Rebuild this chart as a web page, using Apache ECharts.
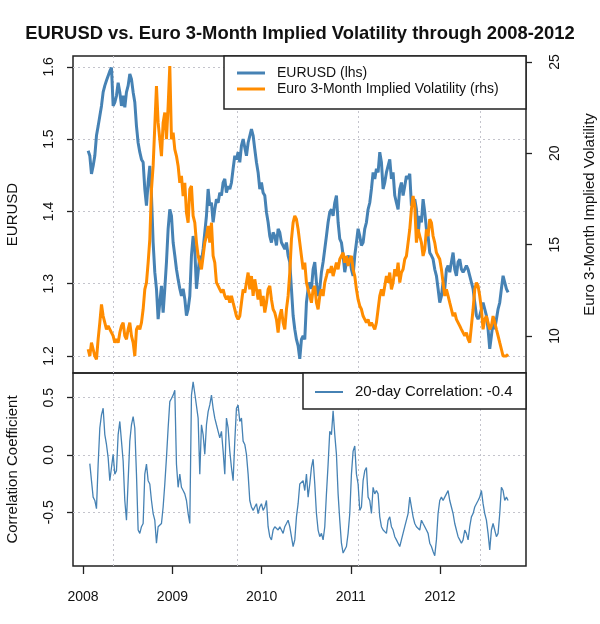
<!DOCTYPE html>
<html><head><meta charset="utf-8">
<script src="https://cdn.jsdelivr.net/npm/echarts@6/dist/echarts.min.js"></script>
<style>html,body{margin:0;padding:0;background:#fff}#c{width:600px;height:624px}</style>
</head><body><div id="c"></div>
<script>
// ---- data ----
const startDate = [2008, 1, 22];   // first observation
const stepDays = 6.82;             // spacing of the sampled observations
const eurusd = [
1.484,1.477,1.452,1.463,1.477,1.505,1.518,1.532,1.546,1.565,1.574,1.581,1.583,1.594,1.599,1.546,1.551,1.560,1.578,1.565,1.546,1.560,1.544,1.565,1.574,1.590,1.583,1.565,1.551,1.518,1.495,1.482,1.472,1.468,1.431,1.408,1.440,1.463,1.422,1.357,1.316,1.293,1.251,1.274,1.297,1.260,1.293,1.330,1.376,1.403,1.394,1.357,1.339,1.320,1.306,1.293,1.283,1.293,1.279,1.256,1.265,1.283,1.339,1.366,1.348,
1.293,1.316,1.339,1.330,1.348,1.371,1.394,1.431,1.408,1.412,1.385,1.403,1.417,1.412,1.426,1.422,1.440,1.445,1.426,1.435,1.431,1.440,1.459,1.477,1.472,1.482,1.468,1.491,1.500,1.500,1.477,1.495,1.495,1.514,1.505,1.486,1.468,1.454,1.431,1.440,1.426,1.422,1.399,1.385,1.366,1.357,1.371,1.366,1.353,1.376,1.371,1.357,1.357,1.348,1.357,1.339,1.330,1.293,1.256,1.237,1.223,1.214,1.196,1.223,1.228,1.223,
1.274,1.293,1.302,1.293,1.320,1.330,1.302,1.283,1.293,1.316,1.330,1.348,1.366,1.385,1.399,1.403,1.394,1.412,1.422,1.385,1.362,1.357,1.339,1.316,1.330,1.339,1.334,1.320,1.311,1.339,1.357,1.376,1.366,1.353,1.357,1.376,1.385,1.403,1.412,1.431,1.454,1.445,1.459,1.454,1.482,1.468,1.431,1.440,1.454,1.463,1.472,1.445,1.454,1.422,1.412,1.403,1.431,1.440,1.422,1.435,1.449,1.445,1.452,1.408,1.412,1.417,
1.403,1.366,1.394,1.385,1.417,1.399,1.376,1.366,1.343,1.339,1.334,1.320,1.311,1.293,1.274,1.283,1.302,1.293,1.320,1.325,1.316,1.330,1.343,1.320,1.311,1.330,1.334,1.320,1.316,1.320,1.325,1.320,1.311,1.302,1.293,1.274,1.256,1.251,1.256,1.265,1.274,1.265,1.256,1.237,1.210,1.228,1.247,1.237,1.251,1.265,1.274,1.293,1.311,1.302,1.293,1.288
];
const vol = [
9.27,8.90,9.63,9.27,8.90,8.72,9.82,10.73,11.73,11.09,10.73,10.36,10.55,10.55,10.18,10.00,9.63,9.82,9.63,10.18,10.55,10.73,10.00,9.82,10.36,10.73,10.00,9.63,8.90,10.36,10.55,10.36,10.73,11.46,12.55,12.92,14.01,15.29,18.03,19.31,21.50,23.69,21.68,20.77,19.85,21.68,22.23,20.77,22.59,24.78,20.77,21.13,20.22,19.85,19.31,18.39,18.76,17.66,18.39,16.75,16.20,18.03,18.21,16.57,16.20,
15.11,14.38,14.01,13.65,14.38,15.11,15.47,16.02,15.11,16.20,14.38,14.01,12.92,12.74,12.55,12.37,12.55,12.19,12.00,12.19,11.82,12.19,11.82,11.46,11.09,10.91,11.09,11.82,12.55,12.37,12.92,13.47,12.55,13.28,12.19,13.10,12.55,12.00,12.55,11.64,12.19,11.28,11.82,12.55,12.74,12.00,11.46,11.28,10.91,10.18,11.09,11.46,10.73,10.36,11.46,12.19,13.47,15.29,16.20,16.57,16.39,15.84,15.11,14.38,13.65,14.01,
12.92,12.55,12.19,11.82,12.55,12.74,11.82,11.46,12.19,12.55,12.19,12.92,13.28,13.65,13.47,13.83,13.28,13.65,14.01,13.65,14.20,14.38,14.56,14.01,14.38,13.83,14.20,14.38,13.65,13.28,12.55,12.00,11.64,11.46,11.09,10.91,10.73,10.91,10.55,10.73,10.55,10.36,10.73,11.46,12.19,12.55,12.19,12.74,13.28,12.92,13.47,12.55,12.92,13.65,13.28,14.01,12.92,13.47,13.65,14.20,14.38,15.11,15.84,16.93,17.66,17.12,
15.11,15.84,15.47,15.11,14.38,14.74,15.84,15.47,16.39,16.20,15.47,15.11,14.56,14.38,14.20,13.65,12.92,12.19,12.55,12.19,11.82,11.46,11.09,11.28,10.91,10.73,10.55,10.36,10.18,10.00,10.18,9.82,9.63,10.55,11.46,12.55,12.92,12.74,12.19,11.46,10.36,10.91,11.09,10.73,10.36,10.55,11.09,10.73,10.36,10.00,9.63,9.27,8.90,8.81,8.90,9.00
];
const corr = [null,
-0.075,-0.224,-0.368,-0.397,-0.468,-0.080,0.236,0.351,0.408,0.178,
0.092,-0.023,-0.224,-0.109,0.006,-0.167,-0.138,0.178,0.293,0.121,
-0.052,-0.397,-0.569,-0.224,0.121,0.264,0.336,0.236,-0.167,-0.655,
-0.684,-0.626,-0.598,-0.167,-0.080,-0.224,-0.253,-0.397,-0.511,-0.569,
-0.770,-0.626,-0.626,-0.598,-0.454,-0.253,-0.023,0.236,0.466,0.494,
0.523,0.566,-0.080,-0.282,-0.167,-0.282,-0.310,-0.339,-0.397,-0.511,
-0.598,0.523,0.638,0.537,0.523,0.322,-0.167,0.264,0.178,0.006,
0.264,0.379,0.437,0.523,0.408,0.322,0.264,0.207,0.149,0.207,
0.034,-0.167,0.322,0.236,0.034,-0.109,-0.224,0.121,0.408,0.437,
0.293,0.322,0.121,0.092,0.006,-0.167,-0.397,-0.454,-0.483,-0.454,
-0.425,-0.511,-0.454,-0.425,-0.483,-0.454,-0.397,-0.626,-0.713,-0.741,
-0.655,-0.626,-0.626,-0.655,-0.626,-0.655,-0.684,-0.626,-0.598,-0.569,
-0.626,-0.713,-0.799,-0.741,-0.540,-0.425,-0.253,
-0.253,-0.224,-0.310,-0.167,-0.368,-0.253,-0.109,-0.037,-0.253,-0.511,
-0.655,-0.713,-0.684,-0.741,-0.626,-0.339,-0.080,0.207,0.178,0.385,
0.178,0.006,-0.339,-0.569,-0.770,-0.856,-0.871,-0.799,-0.684,-0.511,
-0.167,0.034,0.078,-0.167,-0.253,-0.483,-0.454,-0.224,-0.138,-0.109,
-0.368,-0.397,-0.511,-0.282,-0.339,-0.310,-0.339,-0.540,-0.626,-0.655,
-0.655,-0.684,-0.569,-0.540,-0.626,-0.655,-0.713,-0.741,-0.770,-0.799,
-0.741,-0.741,-0.626,-0.569,-0.511,-0.368,-0.368,-0.540,-0.598,-0.626,
-0.626,-0.655,-0.569,-0.598,-0.626,-0.655,-0.684,-0.770,-0.799,-0.842,
-0.879,-0.741,-0.511,-0.397,-0.368,-0.397,-0.368,-0.339,-0.310,-0.397,
-0.454,-0.511,-0.598,-0.655,-0.713,-0.741,-0.770,-0.741,-0.655,-0.684,
-0.741,-0.626,-0.540,-0.511,-0.454,-0.425,-0.397,-0.368,-0.310,-0.425,
-0.511,-0.569,-0.684,-0.828,-0.655,-0.598,-0.655,-0.713,-0.684,-0.511,
-0.282,-0.310,-0.397,-0.368,-0.397
];
const yearTicks = [[2008,1,1],[2009,1,1],[2010,1,1],[2011,1,1],[2012,1,1]];
const gridDates = [[2008,5,2],[2009,9,22],[2011,1,30],[2012,6,13]];
const xRange = [[2007,11,21],[2012,12,18]];
const usdTicks = [1.2,1.3,1.4,1.5,1.6];
const usdRange = [1.1765,1.615];
const volTicks = [10,15,20,25];
const volRange = [7.97,25.33];
const corrTicks = [-0.5,0.0,0.5];
const corrRange = [-0.969,0.716];
const names = ['EURUSD (lhs)','Euro 3-Month Implied Volatility (rhs)','20-day Correlation: -0.4'];
const TITLE = 'EURUSD vs. Euro 3-Month Implied Volatility through 2008-2012';

// ---- build ----
const ts = d => Date.UTC(d[0], d[1]-1, d[2]);
const DAY = 86400000;
const t0 = ts(startDate);
const dates = eurusd.map((_, i) => t0 + i*stepDays*DAY);
const pair = arr => arr.map((v, i) => [dates[i], v]);

const FONT = "'Liberation Sans', Arial, Helvetica, sans-serif";
const TXT = '#111';
const GRIDC = '#c4c4cc';
const BOX = '#222';

function measure(font){const c=document.createElement('canvas').getContext('2d');c.font=font;return c.measureText(TITLE).width;}
let titleFamily = "'Liberation Sans Narrow'";
let w22 = measure("bold 22px 'Liberation Sans Narrow', monospace");
if (w22 > 600) { titleFamily = FONT; w22 = measure("bold 22px " + FONT); }
const titleSize = Math.min(22, 22*550/w22);

const gridLine = {silent:true, symbol:'none', z:1, animation:false, label:{show:false},
  lineStyle:{color:GRIDC, type:[2,3], width:1}, data: gridDates.map(d => ({xAxis: ts(d)}))};

const tickStyle = {color:BOX, width:1.3};
const lab = (extra) => Object.assign({fontSize:14, color:TXT, fontFamily:FONT}, extra);

const option = {
  backgroundColor:'#fff',
  animation:false,
  title:{text:TITLE, left:'center', top:25, padding:0,
    textStyle:{fontSize:titleSize, fontWeight:'bold', fontFamily:titleFamily, color:TXT}},
  grid:[
    {left:73, top:56, width:453, height:317, show:true, borderColor:BOX, borderWidth:1.5, backgroundColor:'transparent', containLabel:false, outerBoundsMode:'none'},
    {left:73, top:373, width:453, height:193, show:true, borderColor:BOX, borderWidth:1.5, backgroundColor:'transparent', containLabel:false, outerBoundsMode:'none'}
  ],
  xAxis:[
    {gridIndex:0, type:'value', min:ts(xRange[0]), max:ts(xRange[1]), axisLine:{show:false, onZero:false}, axisTick:{show:false}, axisLabel:{show:false}, splitLine:{show:false}},
    {gridIndex:1, type:'value', position:'bottom', min:ts(xRange[0]), max:ts(xRange[1]), axisLine:{show:false, onZero:false},
      axisTick:{show:true, length:8, lineStyle:tickStyle, customValues: yearTicks.map(ts)},
      axisLabel: lab({customValues: yearTicks.map(ts), margin:24, formatter: v => String(new Date(v).getUTCFullYear())}),
      splitLine:{show:false}}
  ],
  yAxis:[
    {gridIndex:0, type:'value', position:'left', min:usdRange[0], max:usdRange[1], axisLine:{show:false, onZero:false},
      axisTick:{show:true, length:6, lineStyle:tickStyle, customValues:usdTicks},
      axisLabel: lab({customValues:usdTicks, rotate:90, margin:17, formatter: v => v.toFixed(1)}),
      splitLine:{show:true, lineStyle:{color:GRIDC, type:[2,3], width:1}},
      name:'EURUSD', nameLocation:'middle', nameRotate:90, nameGap:53, nameTextStyle:{fontSize:15, color:TXT, fontFamily:FONT}},
    {gridIndex:0, type:'value', position:'right', min:volRange[0], max:volRange[1], axisLine:{show:false, onZero:false},
      axisTick:{show:true, length:6, lineStyle:tickStyle, customValues:volTicks},
      axisLabel: lab({customValues:volTicks, rotate:90, margin:22, formatter: v => String(v)}),
      splitLine:{show:false},
      name:'Euro 3-Month Implied Volatility', nameLocation:'middle', nameRotate:90, nameGap:56, nameTextStyle:{fontSize:15, color:TXT, fontFamily:FONT}},
    {gridIndex:1, type:'value', position:'left', min:corrRange[0], max:corrRange[1], axisLine:{show:false, onZero:false},
      axisTick:{show:true, length:6, lineStyle:tickStyle, customValues:corrTicks},
      axisLabel: lab({customValues:corrTicks, rotate:90, margin:17, formatter: v => v.toFixed(1)}),
      splitLine:{show:true, lineStyle:{color:GRIDC, type:[2,3], width:1}},
      name:'Correlation Coefficient', nameLocation:'middle', nameRotate:90, nameGap:53, nameTextStyle:{fontSize:15, color:TXT, fontFamily:FONT}}
  ],
  legend:[
    {data:[names[0], names[1]], orient:'vertical', left:237, top:65, padding:0, itemGap:0, itemWidth:28, itemHeight:3, icon:'rect',
      selectedMode:false, z:10, textStyle:{fontSize:14, lineHeight:16, padding:[0,0,0,7], color:TXT, fontFamily:FONT}},
    {data:[names[2]], orient:'vertical', left:315, top:384, padding:0, itemWidth:28, itemHeight:2, icon:'rect',
      selectedMode:false, z:10, textStyle:{fontSize:15, lineHeight:16, padding:[0,0,0,7], color:TXT, fontFamily:FONT}}
  ],
  graphic:[
    {type:'rect', z:5, silent:true, shape:{x:224, y:56, width:302, height:53}, style:{fill:'#fff', stroke:BOX, lineWidth:1.5}},
    {type:'rect', z:5, silent:true, shape:{x:303, y:373, width:223, height:36}, style:{fill:'#fff', stroke:BOX, lineWidth:1.5}}
  ],
  series:[
    {name:names[0], type:'line', xAxisIndex:0, yAxisIndex:0, data:pair(eurusd), symbol:'none', showSymbol:false,
      color:'#4682b4', lineStyle:{width:3, color:'#4682b4'}, z:2, markLine:gridLine},
    {name:names[1], type:'line', xAxisIndex:0, yAxisIndex:1, data:pair(vol), symbol:'none', showSymbol:false,
      color:'#ff8c00', lineStyle:{width:3, color:'#ff8c00'}, z:3},
    {name:names[2], type:'line', xAxisIndex:1, yAxisIndex:2, data:pair(corr), symbol:'none', showSymbol:false,
      color:'#4682b4', lineStyle:{width:1.3, color:'#4682b4'}, z:2, markLine:gridLine}
  ]
};
const chart = echarts.init(document.getElementById('c'), null, {renderer:'canvas'});
chart.setOption(option);
</script>
</body></html>
